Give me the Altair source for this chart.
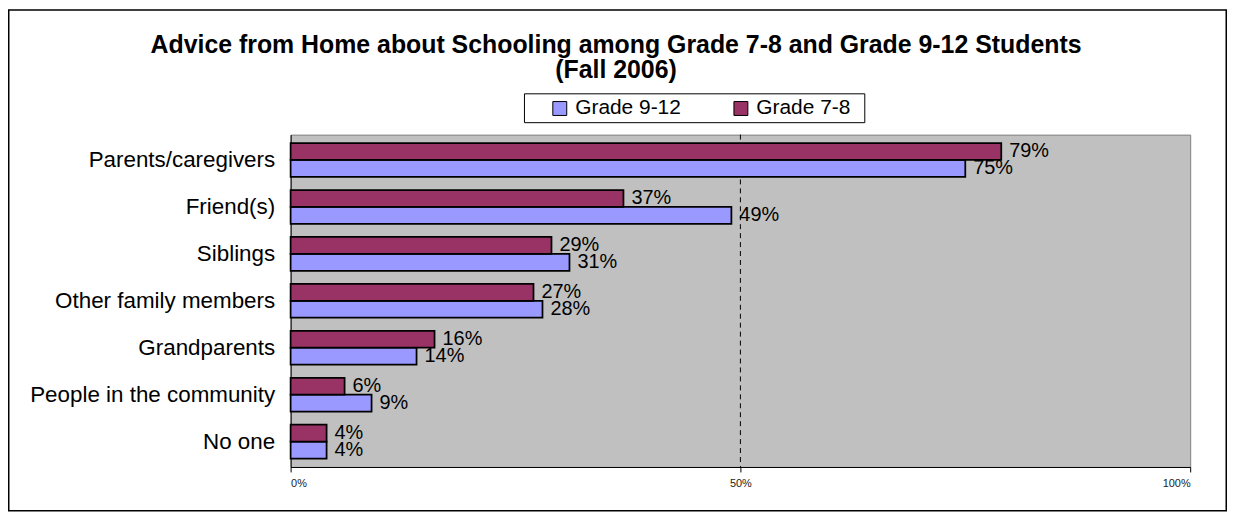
import altair as alt
import pandas as pd

categories = ["Parents/caregivers", "Friend(s)", "Siblings", "Other family members",
              "Grandparents", "People in the community", "No one"]
grade_9_12 = [0.75, 0.49, 0.31, 0.28, 0.14, 0.09, 0.04]
grade_7_8 = [0.79, 0.37, 0.29, 0.27, 0.16, 0.06, 0.04]
series = ["Grade 9-12", "Grade 7-8"]
colors = ["#9999FF", "#993366"]
title_lines = ["Advice from Home about Schooling among Grade 7-8 and Grade 9-12 Students",
               "(Fall 2006)"]
x_ticks = [0, 0.5, 1]

rows = []
for c, a, b in zip(categories, grade_9_12, grade_7_8):
    rows.append({"category": c, "series": series[0], "value": a})
    rows.append({"category": c, "series": series[1], "value": b})
df = pd.DataFrame(rows)

FONT = "Liberation Sans"
W, H = 904, 334

y_enc = alt.Y("category:N", sort=categories,
              scale=alt.Scale(paddingInner=0.28, paddingOuter=0.18),
              axis=alt.Axis(title=None, ticks=False, labelFontSize=22.5, labelColor="black",
                            labelPadding=16, domainColor="black", labelLimit=400,
                            labelFont=FONT))
yoff_enc = alt.YOffset("series:N",
                       scale=alt.Scale(domain=["Grade 7-8", "Grade 9-12"],
                                       paddingInner=0, paddingOuter=0))
x_enc = alt.X("value:Q", scale=alt.Scale(domain=[0, 1], nice=False),
              axis=alt.Axis(title=None, values=x_ticks, format=".0%", grid=False,
                            labelFontSize=11, tickSize=5, tickColor="black",
                            domainColor="black", labelColor="#222222", labelPadding=6,
                            labelFont=FONT))

base = alt.Chart(df)

grid = alt.Chart(pd.DataFrame({"a": [0]})).mark_rule(
    color="black", strokeDash=[5, 4], strokeWidth=1
).encode(x=alt.datum(0.5))

bars = base.mark_bar(stroke="black", strokeWidth=1.75).encode(
    x=x_enc,
    y=y_enc,
    yOffset=yoff_enc,
    fill=alt.Fill("series:N",
                  scale=alt.Scale(domain=series, range=colors),
                  legend=alt.Legend(orient="none", legendX=260, legendY=-37,
                                    direction="horizontal", title=None,
                                    symbolType="square", symbolSize=196,
                                    symbolStrokeColor="black", symbolStrokeWidth=1,
                                    labelFontSize=21, labelColor="black", labelFont=FONT,
                                    columnPadding=49, labelOffset=5, padding=0)),
)

labels = base.mark_text(align="left", baseline="middle", dx=8, fontSize=20,
                        font=FONT, color="black").encode(
    x="value:Q",
    y=alt.Y("category:N", sort=categories),
    yOffset=alt.YOffset("series:N"),
    text=alt.Text("value:Q", format=".0%"),
)

one = pd.DataFrame({"a": [0]})

border = alt.Chart(one).mark_rect(fill="white", fillOpacity=0, stroke="black",
                                  strokeWidth=1.5).encode(
    x=alt.value(-283.25), x2=alt.value(940.25),
    y=alt.value(-125.25), y2=alt.value(378),
)

legend_box = alt.Chart(one).mark_rect(fill="white", stroke="black", strokeWidth=1).encode(
    x=alt.value(235), x2=alt.value(577), y=alt.value(-41), y2=alt.value(-12),
)

title = alt.Chart(one).mark_text(
    font=FONT, fontSize=25, fontWeight="bold", color="black", align="center",
    baseline="alphabetic", lineBreak="\n", lineHeight=25,
).encode(
    x=alt.value(327), y=alt.value(-82), text=alt.value("\n".join(title_lines)),
)

chart = alt.layer(border, title, legend_box, grid, bars, labels).properties(
    width=W, height=H,
    padding={"left": 284, "top": 126, "right": 37, "bottom": 45},
    autosize=alt.AutoSizeParams(type="none"),
    background="white",
).configure_view(fill="#C0C0C0", stroke="#808080", strokeWidth=1)

chart.save("out.html", embed_options={"renderer": "svg", "actions": False})
